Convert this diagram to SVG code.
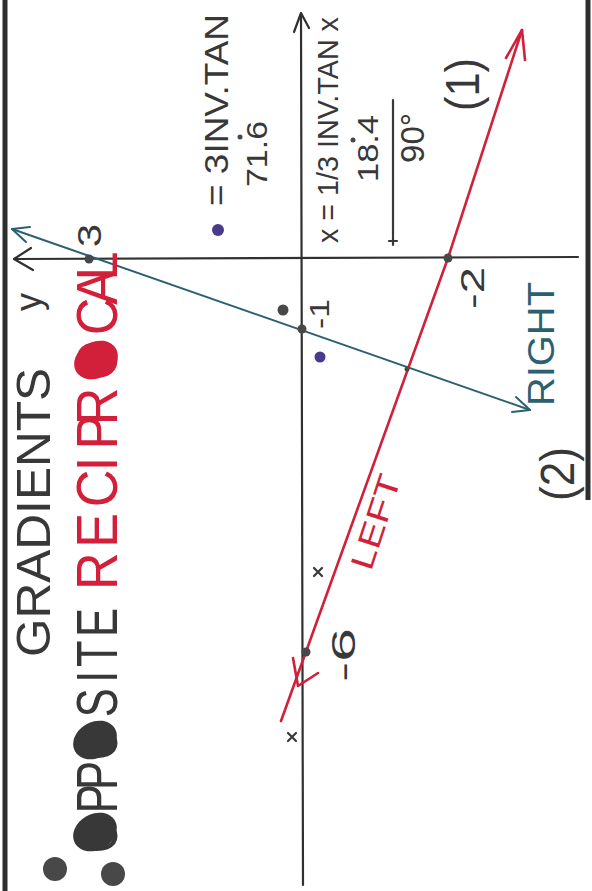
<svg xmlns="http://www.w3.org/2000/svg" width="592" height="891" viewBox="0 0 592 891">
<defs>
<style>
.t{font-family:"Liberation Sans",Arial,sans-serif}
.ink{fill:#383838}
.red{fill:#d21f3a}
.teal{fill:#2c6070}
.axis{stroke:#303030;stroke-width:2.2;fill:none;stroke-linecap:round;stroke-linejoin:round}
.rl{stroke:#d21f3a;stroke-width:2.6;fill:none;stroke-linecap:round;stroke-linejoin:round}
.bl{stroke:#2c6070;stroke-width:2;fill:none;stroke-linecap:round;stroke-linejoin:round}
.tick{stroke:#383838;stroke-width:2.2;stroke-linecap:round}
.dot{fill:#484848}
.pdot{fill:#4a3a8c}
</style>
</defs>
<rect x="0" y="0" width="592" height="891" fill="#ffffff"/>
<g id="card-border">
<line x1="5" y1="0" x2="5" y2="891" stroke="#2e2e2e" stroke-width="5"/>
<line x1="588" y1="0" x2="588" y2="500" stroke="#2e2e2e" stroke-width="5"/>
</g>
<g id="connectors">
<g id="x-axis">
<line class="axis" x1="301" y1="14" x2="303" y2="885"/>
<polyline class="axis" points="294,32 301,13 309,28" stroke-width="3"/>
</g>
<g id="y-axis">
<line class="axis" x1="14" y1="259" x2="578" y2="257"/>
<polyline class="axis" points="31,248 14,259 33,270" stroke-width="3"/>
</g>
<g id="line-2-blue">
<line class="bl" x1="12" y1="229" x2="530" y2="410"/>
<polyline class="bl" points="26,242 12,229 30,227" stroke-width="3"/>
<polyline class="bl" points="516,397 530,410 512,412" stroke-width="3"/>
</g>
<g id="line-1-red">
<polyline class="rl" points="281,721 448,258 522,30"/>
<polyline class="rl" points="506,58 522,30 525,60" stroke-width="3.5"/>
<polyline class="rl" points="293,658 298,686 318,673" stroke-width="3.5"/>
</g>
</g>
<g id="points">
<circle class="dot" cx="89" cy="259" r="4.5"/>
<circle class="dot" cx="302" cy="329" r="4.5"/>
<circle class="dot" cx="448" cy="258" r="4.5"/>
<circle class="dot" cx="306" cy="652" r="4.5"/>
<circle class="dot" cx="407" cy="369" r="2.5"/>
<circle class="dot" cx="283" cy="310" r="5.5"/>
<circle class="pdot" cx="320" cy="357" r="5.5"/>
<circle class="pdot" cx="218" cy="230" r="6"/>
<circle class="dot" cx="240" cy="137" r="2.5"/>
<circle class="dot" cx="353" cy="140" r="2.5"/>
</g>
<g id="ticks">
<path class="tick" d="M314,568 L322,576 M322,568 L314,576"/>
<path class="tick" d="M288,733 L296,741 M296,733 L288,741"/>
<path class="tick" d="M389,241 L397,241 M393,237 L393,245"/>
<line class="tick" x1="393" y1="100" x2="393" y2="236"/>
</g>
<g id="bullets">
<circle class="dot" cx="55" cy="869" r="12"/>
<circle class="dot" cx="113" cy="874" r="12"/>
</g>
<g id="title">
<text class="t ink" transform="translate(50,657) rotate(-90)" font-size="48" textLength="289" lengthAdjust="spacingAndGlyphs">GRADIENTS</text>
<text class="t ink" transform="translate(117,853) rotate(-90) scale(0.75,1)" font-size="58" x="0 53 84 124 181 227 248 288" y="0">OPPOSITE</text>
<ellipse class="ink" cx="95" cy="832" rx="23" ry="18" transform="rotate(-30 95 832)"/>
<ellipse class="ink" cx="95" cy="740" rx="23" ry="18" transform="rotate(-30 95 740)"/>
<text class="t red" transform="translate(117,590) rotate(-90) scale(0.9,1)" font-size="58" x="0 47 92 132 156 183 233 283 317 344" y="0">RECIPROCAL</text>
<ellipse class="red" cx="96" cy="360" rx="23" ry="18" transform="rotate(-30 96 360)"/>
</g>
<g id="labels">
<text class="t ink" transform="translate(41,311) rotate(-90)" font-size="36">y</text>
<text class="t ink" transform="translate(101,247) rotate(-90)" font-size="33" textLength="23" lengthAdjust="spacingAndGlyphs">3</text>
<text class="t ink" transform="translate(228,206) rotate(-90)" font-size="34" textLength="192" lengthAdjust="spacingAndGlyphs">= 3INV.TAN</text>
<text class="t ink" transform="translate(267,187) rotate(-90)" font-size="30" textLength="66" lengthAdjust="spacingAndGlyphs">71.6</text>
<text class="t ink" transform="translate(338,243) rotate(-90)" font-size="29" textLength="226" lengthAdjust="spacingAndGlyphs">x = 1/3 INV.TAN x</text>
<text class="t ink" transform="translate(378,182) rotate(-90)" font-size="30" textLength="67" lengthAdjust="spacingAndGlyphs">18.4</text>
<text class="t ink" transform="translate(424,163) rotate(-90)" font-size="34" textLength="50" lengthAdjust="spacingAndGlyphs">90°</text>
<text class="t ink" transform="translate(479,111) rotate(-90)" font-size="48" textLength="53" lengthAdjust="spacingAndGlyphs">(1)</text>
<text class="t ink" transform="translate(484,309) rotate(-90)" font-size="34" textLength="42" lengthAdjust="spacingAndGlyphs">-2</text>
<text class="t ink" transform="translate(329,329) rotate(-90)" font-size="28" textLength="30" lengthAdjust="spacingAndGlyphs">-1</text>
<text class="t ink" transform="translate(355,682) rotate(-90)" font-size="34" textLength="54" lengthAdjust="spacingAndGlyphs">-6</text>
<text class="t red" transform="translate(371,572) rotate(-72)" font-size="32" textLength="98" lengthAdjust="spacingAndGlyphs">LEFT</text>
<text class="t teal" transform="translate(554,406) rotate(-90)" font-size="36" textLength="124" lengthAdjust="spacingAndGlyphs">RIGHT</text>
<text class="t ink" transform="translate(574,501) rotate(-90)" font-size="48" textLength="54" lengthAdjust="spacingAndGlyphs">(2)</text>
</g>
</svg>
